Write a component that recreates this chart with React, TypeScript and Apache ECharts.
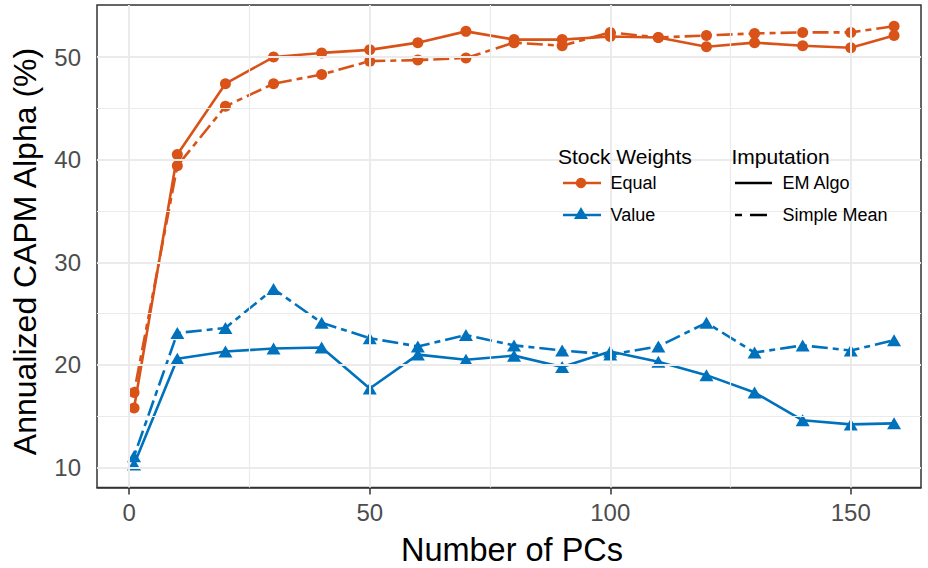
import React, { useEffect, useRef } from "react";
import * as echarts from "echarts";

const numPCs = [1, 10, 20, 30, 40, 50, 60, 70, 80, 90, 100, 110, 120, 130, 140, 150, 159];
const equalEM = [15.8, 40.5, 47.4, 50.0, 50.4, 50.7, 51.4, 52.5, 51.7, 51.7, 52.0, 51.9, 51.0, 51.4, 51.1, 50.9, 52.1];
const equalSM = [17.3, 39.4, 45.2, 47.4, 48.3, 49.6, 49.7, 49.9, 51.4, 51.1, 52.4, 51.9, 52.1, 52.3, 52.4, 52.4, 53.0];
const valueEM = [10.3, 20.6, 21.3, 21.6, 21.7, 17.7, 21.0, 20.5, 20.9, 19.8, 21.3, 20.3, 19.0, 17.3, 14.6, 14.2, 14.3];
const valueSM = [11.1, 23.1, 23.6, 27.4, 24.1, 22.6, 21.8, 22.9, 21.9, 21.4, 21.0, 21.8, 24.1, 21.2, 21.9, 21.4, 22.4];

const xTicks = [0, 50, 100, 150];
const xMinor = [25, 75, 125];
const yTicks = [10, 20, 30, 40, 50];
const yMinor = [15, 25, 35, 45];

const ORANGE = "#D95319";
const BLUE = "#0072BD";
const FONT = "Liberation Sans, Arial, Helvetica, sans-serif";
const DASH = [6, 5, 16, 5];

const pairs = (ys: number[]) => numPCs.map((x, i) => [x, ys[i]]);

export default function App() {
  const ref = useRef<HTMLDivElement>(null);
  useEffect(() => {
    if (!ref.current) return;
    const chart = echarts.init(ref.current, null, { renderer: "svg" });
    const mkSeries = (name: string, ys: number[], color: string, dashed: boolean, symbol: string, size: any) => ({
      name,
      type: "line",
      data: pairs(ys),
      z: 3,
      symbol,
      symbolSize: size,
      showSymbol: true,
      itemStyle: { color },
      lineStyle: { color, width: 2.6, type: dashed ? DASH : "solid" },
      emphasis: { disabled: true },
    });
    const gridLines = [
      ...xTicks.map((v) => ({ xAxis: v, lineStyle: { width: 2 } })),
      ...xMinor.map((v) => ({ xAxis: v, lineStyle: { width: 1.2 } })),
      ...yTicks.map((v) => ({ yAxis: v, lineStyle: { width: 2 } })),
      ...yMinor.map((v) => ({ yAxis: v, lineStyle: { width: 1.2 } })),
    ];
    const legendText = (text: string, x: number, y: number, size: number) => ({
      type: "text",
      x,
      y,
      z: 100,
      style: { text, fontSize: size, fontFamily: FONT, fill: "#000", align: "left", verticalAlign: "middle" },
    });
    chart.setOption({
      animation: false,
      grid: { left: 97, right: 7, top: 5, bottom: 80.5, show: true, borderColor: "#333333", borderWidth: 1.5, backgroundColor: "#fff" },
      xAxis: {
        type: "value",
        min: -6.7,
        max: 164.6,
        splitLine: { show: false },
        axisLine: { show: true, lineStyle: { color: "#333333", width: 1.5 } },
        axisTick: { show: true, length: 7, lineStyle: { color: "#333333", width: 1.5 }, customValues: xTicks },
        axisLabel: { customValues: xTicks, fontSize: 24, color: "#4D4D4D", margin: 13, fontFamily: FONT },
      },
      yAxis: {
        type: "value",
        min: 8.05,
        max: 55.07,
        splitLine: { show: false },
        axisLine: { show: true, lineStyle: { color: "#333333", width: 1.5 } },
        axisTick: { show: true, length: 7, lineStyle: { color: "#333333", width: 1.5 }, customValues: yTicks },
        axisLabel: { customValues: yTicks, fontSize: 24, color: "#4D4D4D", margin: 16, fontFamily: FONT },
      },
      series: [
        {
          type: "line",
          data: [],
          z: 1,
          silent: true,
          markLine: {
            silent: true,
            symbol: ["none", "none"],
            label: { show: false },
            lineStyle: { color: "#EBEBEB", type: "solid" },
            emphasis: { disabled: true },
            data: gridLines,
          },
        },
        mkSeries("Equal EM", equalEM, ORANGE, false, "circle", 11),
        mkSeries("Equal SM", equalSM, ORANGE, true, "circle", 11),
        mkSeries("Value EM", valueEM, BLUE, false, "triangle", [14, 12]),
        mkSeries("Value SM", valueSM, BLUE, true, "triangle", [14, 12]),
      ],
      graphic: [
        {
          type: "text",
          x: 512,
          y: 550,
          z: 100,
          style: { text: "Number of PCs", fontSize: 32.5, fontFamily: FONT, fill: "#000", align: "center", verticalAlign: "middle" },
        },
        {
          type: "text",
          x: 25,
          y: 251.5,
          z: 100,
          rotation: Math.PI / 2,
          style: { text: "Annualized CAPM Alpha (%)", fontSize: 32, fontFamily: FONT, fill: "#000", align: "center", verticalAlign: "middle" },
        },
        legendText("Stock Weights", 558, 156, 21),
        legendText("Imputation", 731.5, 156, 21),
        { type: "line", z: 100, shape: { x1: 563, y1: 183, x2: 601, y2: 183 }, style: { stroke: ORANGE, lineWidth: 2.6 } },
        { type: "circle", z: 100, shape: { cx: 581, cy: 183, r: 5.2 }, style: { fill: ORANGE } },
        legendText("Equal", 610.5, 183, 18),
        { type: "line", z: 100, shape: { x1: 563, y1: 215, x2: 601, y2: 215 }, style: { stroke: BLUE, lineWidth: 2.6 } },
        { type: "polygon", z: 100, shape: { points: [[581, 207], [588, 219], [574, 219]] }, style: { fill: BLUE } },
        legendText("Value", 610.5, 215, 18),
        { type: "line", z: 100, shape: { x1: 735, y1: 183, x2: 772, y2: 183 }, style: { stroke: "#000", lineWidth: 2.6 } },
        legendText("EM Algo", 782.5, 183, 18),
        { type: "line", z: 100, shape: { x1: 735, y1: 215, x2: 772, y2: 215 }, style: { stroke: "#000", lineWidth: 2.6, lineDash: [7, 8, 17, 5] } },
        legendText("Simple Mean", 782.5, 215, 18),
      ],
    });
    return () => chart.dispose();
  }, []);
  return <div ref={ref} style={{ position: "absolute", left: 0, top: 0, width: 928, height: 568 }} />;
}
